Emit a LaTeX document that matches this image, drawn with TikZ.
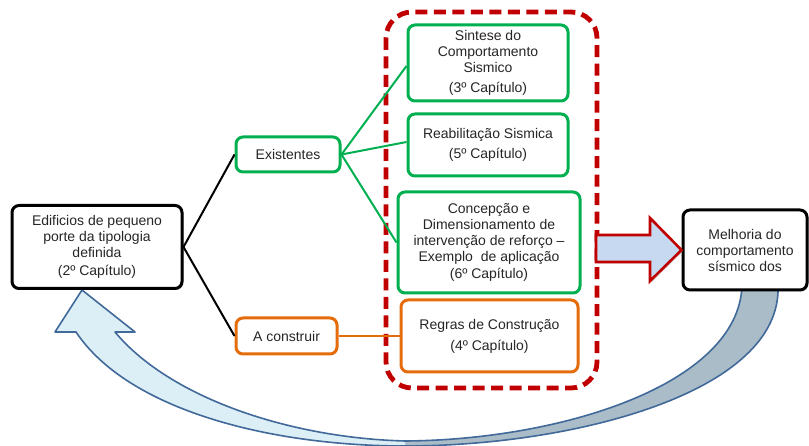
\documentclass[tikz,border=0pt]{standalone}
\usepackage{fontspec}
\setmainfont{Liberation Sans}
\usetikzlibrary{shadows}
\definecolor{boxgreen}{HTML}{00B050}
\definecolor{boxorange}{HTML}{E46C0A}
\definecolor{framered}{HTML}{C00000}
\definecolor{arrowfill}{HTML}{C6D9F1}
\definecolor{curvelight}{HTML}{DCEEF6}
\definecolor{curvedark}{HTML}{A9BCC7}
\definecolor{curveline}{HTML}{41699A}
\definecolor{txt}{HTML}{262626}
\tikzset{
  box/.style={draw, line width=3pt, rounded corners=7pt, fill=white,
    align=center, inner sep=0pt, text=txt,
    font=\fontsize{14}{16}\selectfont},
  blackbox/.style={box, draw=black,
    drop shadow={shadow xshift=1.5pt, shadow yshift=-1.5pt, opacity=0.35}},
  greenbox/.style={box, draw=boxgreen},
  orangebox/.style={box, draw=boxorange},
  link/.style={line width=2pt},
  curve/.style={draw=curveline, line width=1.6pt, line join=round}
}
\begin{document}
\begin{tikzpicture}[x=1pt, y=-1pt]
\useasboundingbox (0,0) rectangle (809,446);

% return arrow from the right box back to the left box
\fill[curvedark] (742,286) .. controls (738,385) and (560,440) .. (405,441)
  -- (405,446) .. controls (575,446) and (782,392) .. (778,286) -- cycle;
\fill[curvelight] (82,290) -- (135,332) -- (115,332)
  .. controls (170,398) and (290,438) .. (405,441) -- (405,446)
  .. controls (270,446) and (128,410) .. (76,332) -- (55,332) -- cycle;
\draw[curve] (742,286) .. controls (738,385) and (560,440) .. (405,441);
\draw[curve] (778,286) .. controls (782,392) and (575,446) .. (405,446);
\draw[curve] (405,441) .. controls (290,438) and (170,398) .. (115,332)
  -- (135,332) -- (82,290) -- (55,332) -- (76,332)
  .. controls (128,410) and (270,446) .. (405,446);

% dashed frame around the chapter boxes
\draw[framered, line width=4.8pt, dash pattern=on 12pt off 6.5pt, rounded corners=26pt]
  (386,12) rectangle (597,388);

% nodes
\node[blackbox, minimum width=170pt, minimum height=83pt] (left) at (97,247)
  {Edificios de pequeno\\porte da tipologia\\definida\\[2pt](2º Capítulo)};
\node[greenbox, minimum width=104pt, minimum height=35pt] (ex) at (288,154.5) {Existentes};
\node[orangebox, minimum width=101pt, minimum height=36pt] (ac) at (286.5,336) {A construir};
\node[greenbox, minimum width=160pt, minimum height=76pt] (syn) at (488,63)
  {Sintese do\\Comportamento\\Sismico\\[4pt](3º Capítulo)};
\node[greenbox, minimum width=160pt, minimum height=62pt] (reab) at (488,145)
  {Reabilitação Sismica\\[4pt](5º Capítulo)};
\node[greenbox, minimum width=182pt, minimum height=101pt] (conc) at (489,242.5)
  {Concepção e\\Dimensionamento de\\intervenção de reforço –\\Exemplo\ \ de aplicação\\[1pt](6º Capítulo)};
\node[orangebox, minimum width=177pt, minimum height=72pt] (regras) at (489.5,336)
  {Regras de Construção\\[5pt](4º Capítulo)};
\node[blackbox, minimum width=124pt, minimum height=80pt] (mel) at (745,250)
  {Melhoria do\\comportamento\\sísmico dos};

% block arrow towards the result
\draw[framered, line width=2.6pt, fill=arrowfill, line join=miter,
      drop shadow={shadow xshift=1.5pt, shadow yshift=-1.5pt, opacity=0.3}]
  (596,235) -- (650,235) -- (650,218) -- (mel.west) -- (650,281)
  -- (650,262) -- (596,262) -- cycle;

% connectors
\draw[link, black] (left.east) -- (ex.west);
\draw[link, black] (left.east) -- (ac.west);
\draw[link, boxgreen] (ex.east) -- ([yshift=-3pt]syn.west);
\draw[link, boxgreen] (ex.east) -- ([yshift=3pt]reab.west);
\draw[link, boxgreen] (ex.east) -- (conc.west);
\draw[link, boxorange] (ac.east) -- (regras.west);
\end{tikzpicture}
\end{document}
